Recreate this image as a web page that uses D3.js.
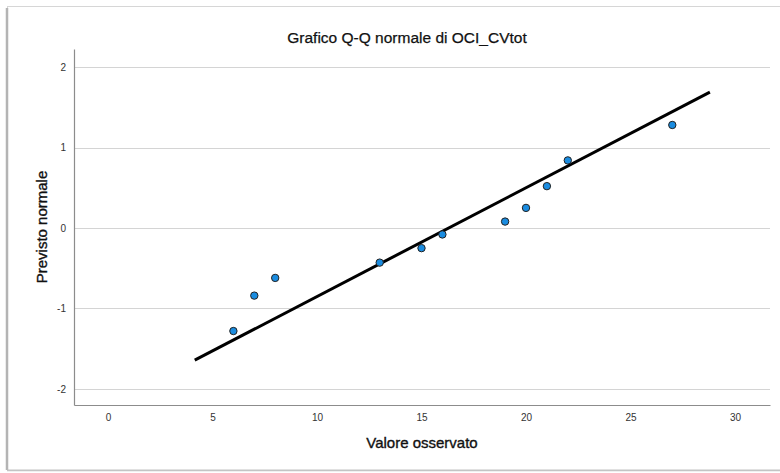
<!DOCTYPE html>
<html>
<head>
<meta charset="utf-8">
<script src="https://cdn.jsdelivr.net/npm/d3@7"></script>
<style>
  html, body { margin: 0; padding: 0; background: #ffffff; }
  svg { display: block; font-family: "Liberation Sans", Arial, sans-serif; }
</style>
</head>
<body>
<svg id="chart" width="780" height="473"></svg>
<script>
// Observed values and their expected normal scores
const observed = [6, 7, 8, 13, 15, 16, 19, 20, 21, 22, 27];
const expectedNormal = [-1.28, -0.84, -0.62, -0.43, -0.25, -0.08, 0.08, 0.25, 0.52, 0.84, 1.28];

// Reference line of the fitted normal (mean, standard deviation) and its x extent
const refMean = 16.3;
const refSd = 7.4;
const refLineX = [4.15, 28.8];

// Tick labels
const xTicks = [0, 5, 10, 15, 20, 25, 30];
const yTicks = [-2, -1, 0, 1, 2];

const titleText = "Grafico Q-Q normale di OCI_CVtot";
const xTitle = "Valore osservato";
const yTitle = "Previsto normale";

const svg = d3.select("#chart");

// Outer panel with soft frame
svg.append("rect")
  .attr("x", 7.5).attr("y", 6.5)
  .attr("width", 800).attr("height", 463.5)
  .attr("fill", "#ffffff")
  .attr("stroke", "#d6d6d6").attr("stroke-width", 1);
svg.append("line")
  .attr("x1", 7).attr("x2", 7).attr("y1", 8).attr("y2", 470)
  .attr("stroke", "#b4b4b4").attr("stroke-width", 2.5);
svg.append("line")
  .attr("x1", 7).attr("x2", 780).attr("y1", 470.5).attr("y2", 470.5)
  .attr("stroke", "#c4c4c4").attr("stroke-width", 1.5);

const plot = { left: 74, right: 770, top: 49, bottom: 405 };

const x = d3.scaleLinear().domain([-1.627, 31.675]).range([plot.left, plot.right]);
const y = d3.scaleLinear().domain([-2.199, 2.224]).range([plot.bottom, plot.top]);

// Horizontal gridlines
svg.append("g")
  .selectAll("line")
  .data(yTicks)
  .join("line")
  .attr("x1", plot.left).attr("x2", plot.right)
  .attr("y1", d => Math.round(y(d)) + 0.5).attr("y2", d => Math.round(y(d)) + 0.5)
  .attr("stroke", "#d4d4d4").attr("stroke-width", 1);

// Axes (plain hyphen for negative labels)
const fmt = d => String(d);
const xAxis = svg.append("g")
  .attr("transform", `translate(0,${plot.bottom})`)
  .call(d3.axisBottom(x).tickValues(xTicks).tickSize(0).tickPadding(9).tickFormat(fmt));
const yAxis = svg.append("g")
  .attr("transform", `translate(${plot.left},0)`)
  .call(d3.axisLeft(y).tickValues(yTicks).tickSize(0).tickPadding(8).tickFormat(fmt));

[xAxis, yAxis].forEach(g => {
  g.select(".domain").attr("stroke", "#8c8c8c").attr("stroke-width", 1.2);
  g.selectAll(".tick text")
    .attr("fill", "#333333")
    .style("font-size", "10px")
    .style("font-family", "'Liberation Sans', Arial, sans-serif");
});

// Reference line
svg.append("line")
  .attr("x1", x(refLineX[0])).attr("y1", y((refLineX[0] - refMean) / refSd))
  .attr("x2", x(refLineX[1])).attr("y2", y((refLineX[1] - refMean) / refSd))
  .attr("stroke", "#000000").attr("stroke-width", 3)
  .attr("stroke-linecap", "butt");

// Data points
svg.append("g")
  .selectAll("circle")
  .data(observed.map((v, i) => ({ v, z: expectedNormal[i] })))
  .join("circle")
  .attr("cx", d => x(d.v))
  .attr("cy", d => y(d.z))
  .attr("r", 3.7)
  .attr("fill", "#1a8ce0")
  .attr("stroke", "#222222")
  .attr("stroke-width", 1);

// Titles
svg.append("text")
  .attr("x", 407).attr("y", 43)
  .attr("text-anchor", "middle")
  .attr("fill", "#111")
  .attr("stroke", "#111").attr("stroke-width", 0.25)
  .style("font-size", "15.5px")
  .text(titleText);

svg.append("text")
  .attr("x", (plot.left + plot.right) / 2).attr("y", 448)
  .attr("text-anchor", "middle")
  .attr("fill", "#111")
  .attr("stroke", "#111").attr("stroke-width", 0.35)
  .style("font-size", "15px")
  .text(xTitle);

svg.append("text")
  .attr("transform", `translate(47,${(plot.top + plot.bottom) / 2}) rotate(-90)`)
  .attr("text-anchor", "middle")
  .attr("fill", "#111")
  .attr("stroke", "#111").attr("stroke-width", 0.35)
  .style("font-size", "15px")
  .text(yTitle);
</script>
</body>
</html>
